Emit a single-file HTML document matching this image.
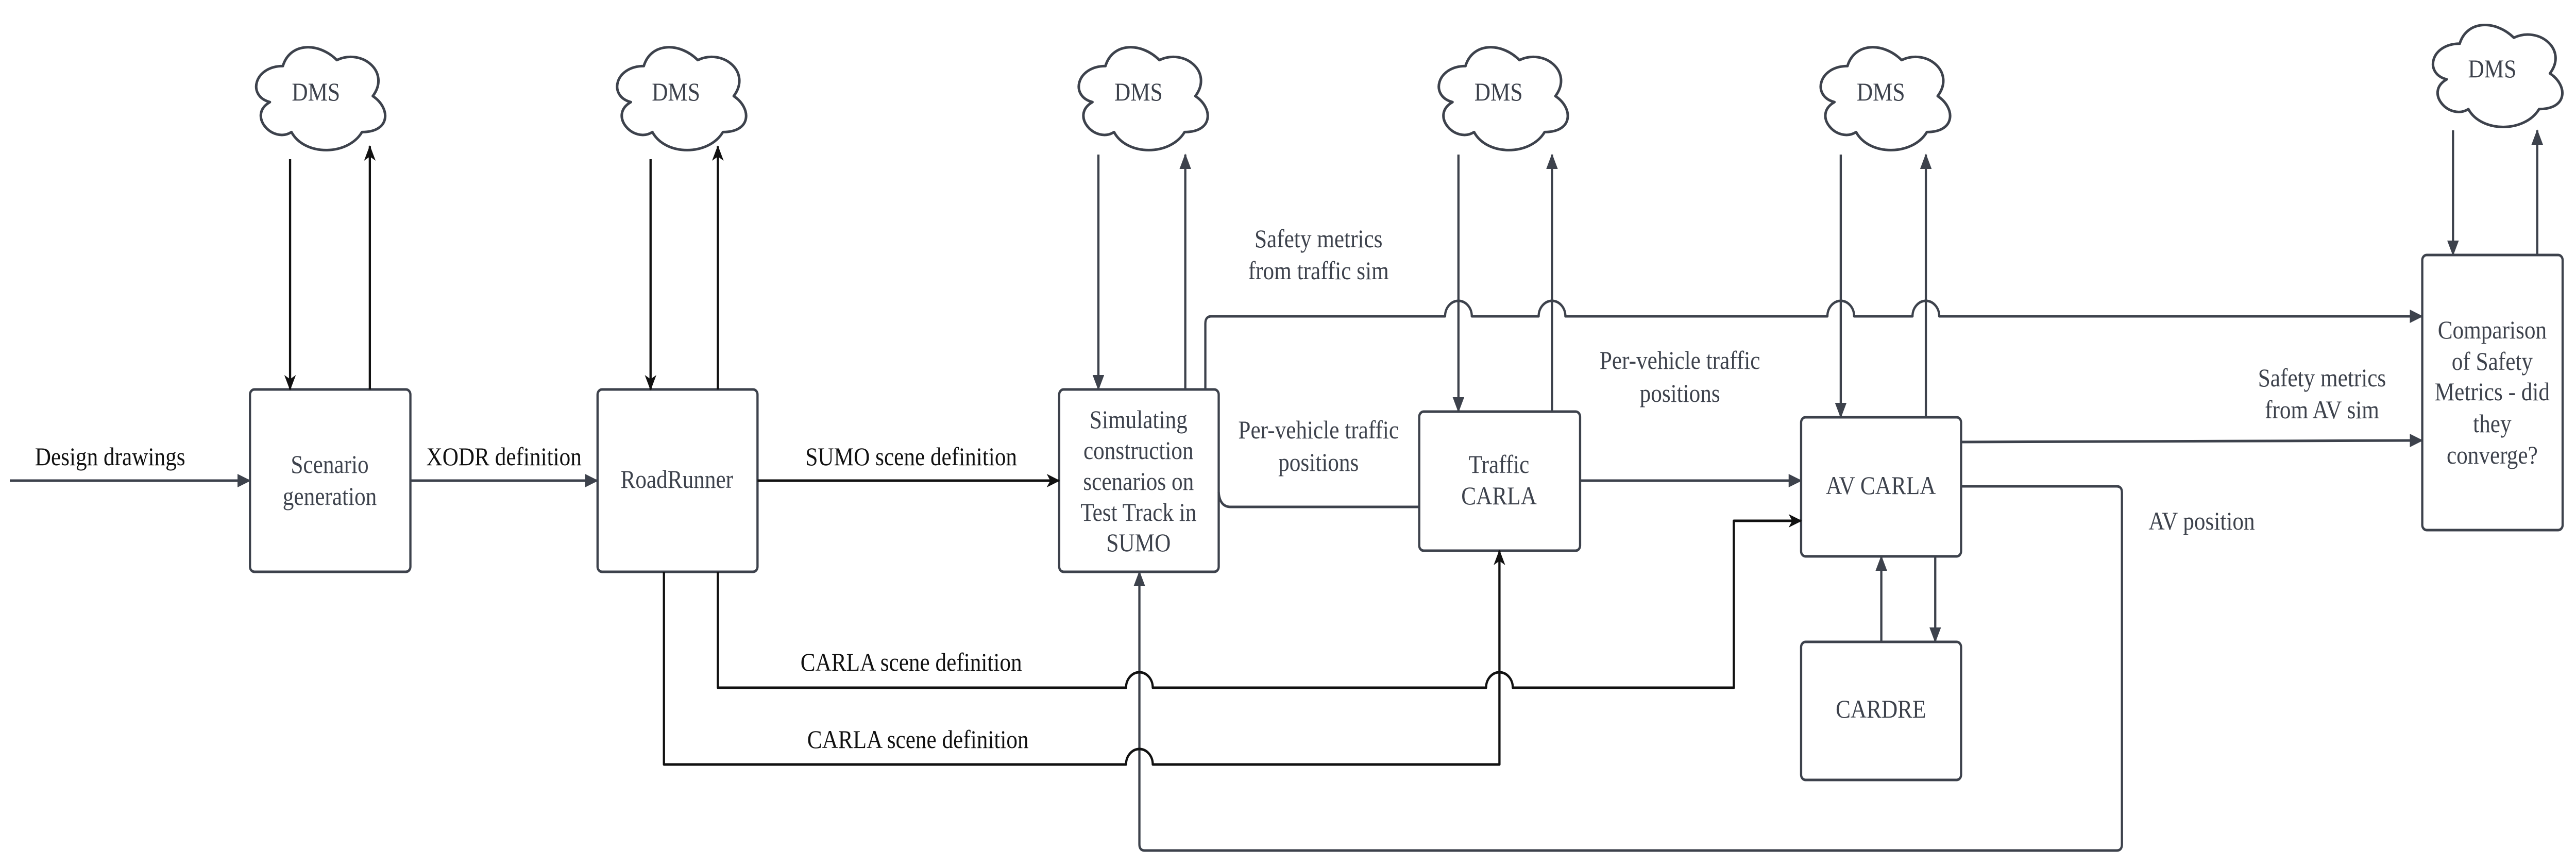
<!DOCTYPE html>
<html><head><meta charset="utf-8"><meta name="viewport" content="width=5781">
<style>
html,body{margin:0;padding:0;background:#fff;width:100vw;height:100vh;overflow:hidden;}
svg{display:block;width:100vw;height:100vh;}
text{font-family:"Liberation Serif","Times New Roman","DejaVu Serif",serif;font-size:50px;}
.e{fill:#111;}
.b{fill:#3d424c;}
</style></head><body>
<svg viewBox="0 0 5781 1683" preserveAspectRatio="none" xmlns="http://www.w3.org/2000/svg">
<defs>
<marker id="ag" markerUnits="userSpaceOnUse" markerWidth="30" markerHeight="26" refX="28" refY="13" orient="auto"><path d="M0 0 L30 13 L0 26 Z" fill="#3d424c"/></marker>
<marker id="ak" markerUnits="userSpaceOnUse" markerWidth="30" markerHeight="26" refX="28" refY="13" orient="auto"><path d="M0 0 L30 13 L0 26 L8 13 Z" fill="#111"/></marker>
<symbol id="cloud" viewBox="0 0 100 100" preserveAspectRatio="none">
<path d="M25 25 C5 25 0 50 16 55 C0 66 18 90 31 80 C40 100 70 100 80 80 C100 80 100 60 87.5 50 C100 30 80 10 62.5 20 C50 5 30 5 25 25 Z" fill="#fff" stroke="#3d424c" vector-effect="non-scaling-stroke" style="stroke-width:5px"/>
</symbol>
</defs>
<g fill="none" stroke-width="5" stroke-linejoin="round">
<use href="#cloud" x="554" y="70" width="323" height="233"/>
<use href="#cloud" x="1364" y="70" width="323" height="233"/>
<use href="#cloud" x="2400" y="70" width="323" height="233"/>
<use href="#cloud" x="3208" y="70" width="323" height="233"/>
<use href="#cloud" x="4065" y="70" width="324" height="233"/>
<use href="#cloud" x="5439" y="27" width="324" height="231"/>
<g stroke="#3d424c" fill="#fff">
<rect x="561" y="756" width="360" height="354" rx="10"/>
<rect x="1341" y="756" width="359" height="354" rx="10"/>
<rect x="2377" y="756" width="358" height="354" rx="10"/>
<rect x="3185" y="799" width="361" height="270" rx="10"/>
<rect x="4042" y="810" width="359" height="270" rx="10"/>
<rect x="4042" y="1246" width="359" height="268" rx="10"/>
<rect x="5436" y="495" width="315" height="534" rx="10"/>
</g>
<path d="M22 933 L561 933" stroke="#3d424c" marker-end="url(#ag)"/>
<path d="M921 933 L1341 933" stroke="#3d424c" marker-end="url(#ag)"/>
<path d="M1700 933 L2377 933" stroke="#111" marker-end="url(#ak)"/>
<path d="M651 309 L651 756" stroke="#111" marker-end="url(#ak)"/>
<path d="M830 756 L830 284" stroke="#111" marker-end="url(#ak)"/>
<path d="M1460 309 L1460 756" stroke="#111" marker-end="url(#ak)"/>
<path d="M1611 756 L1611 284" stroke="#111" marker-end="url(#ak)"/>
<path d="M2465 300 L2465 756" stroke="#3d424c" marker-end="url(#ag)"/>
<path d="M2660 756 L2660 300" stroke="#3d424c" marker-end="url(#ag)"/>
<path d="M2705 756 L2705 628 Q2705 614 2719 614 L3243 614 A30 30 0 0 1 3303 614 L3453 614 A30 30 0 0 1 3513 614 L4101 614 A30 30 0 0 1 4161 614 L4292 614 A30 30 0 0 1 4352 614 L5436 614" stroke="#3d424c" marker-end="url(#ag)"/>
<path d="M2735 955 Q2737 984 2762 984 L3185 984" stroke="#3d424c"/>
<path d="M3273 300 L3273 799" stroke="#3d424c" marker-end="url(#ag)"/>
<path d="M3483 799 L3483 300" stroke="#3d424c" marker-end="url(#ag)"/>
<path d="M3546 933 L4042 933" stroke="#3d424c" marker-end="url(#ag)"/>
<path d="M4131 300 L4131 810" stroke="#3d424c" marker-end="url(#ag)"/>
<path d="M4322 810 L4322 300" stroke="#3d424c" marker-end="url(#ag)"/>
<path d="M4401 858 L5436 855" stroke="#3d424c" marker-end="url(#ag)"/>
<path d="M5505 253 L5505 495" stroke="#3d424c" marker-end="url(#ag)"/>
<path d="M5694 495 L5694 253" stroke="#3d424c" marker-end="url(#ag)"/>
<path d="M4401 944 L4750 944 Q4762 944 4762 956 L4762 1639 Q4762 1651 4750 1651 L2569 1651 Q2557 1651 2557 1639 L2557 1110" stroke="#3d424c" marker-end="url(#ag)"/>
<path d="M1611 1110 L1611 1335 L2527 1335 A30 30 0 0 1 2587 1335 L3335 1335 A30 30 0 0 1 3395 1335 L3891 1335 L3891 1011 L4042 1011" stroke="#111" marker-end="url(#ak)"/>
<path d="M1490 1110 L1490 1484 L2527 1484 A30 30 0 0 1 2587 1484 L3365 1484 L3365 1069" stroke="#111" marker-end="url(#ak)"/>
<path d="M4222 1246 L4222 1080" stroke="#3d424c" marker-end="url(#ag)"/>
<path d="M4343 1080 L4343 1246" stroke="#3d424c" marker-end="url(#ag)"/>
</g>
<g text-anchor="middle" dominant-baseline="central" font-family="Liberation Serif, Times New Roman, serif" font-size="50">
<text class="b" x="709" y="179">DMS</text>
<text class="b" x="1517" y="179">DMS</text>
<text class="b" x="2555" y="179">DMS</text>
<text class="b" x="3363" y="179">DMS</text>
<text class="b" x="4221" y="179">DMS</text>
<text class="b" x="5593" y="134">DMS</text>
<text class="b" x="740" y="902">Scenario</text>
<text class="b" x="740" y="964">generation</text>
<text class="b" x="1519" y="931">RoadRunner</text>
<text class="b" x="2555" y="815">Simulating</text>
<text class="b" x="2555" y="875">construction</text>
<text class="b" x="2555" y="935">scenarios on</text>
<text class="b" x="2555" y="995">Test Track in</text>
<text class="b" x="2555" y="1054">SUMO</text>
<text class="b" x="3364" y="902">Traffic</text>
<text class="b" x="3364" y="963">CARLA</text>
<text class="b" x="4221" y="943">AV CARLA</text>
<text class="b" x="4221" y="1377">CARDRE</text>
<text class="b" x="5593" y="641">Comparison</text>
<text class="b" x="5593" y="702">of Safety</text>
<text class="b" x="5593" y="761">Metrics - did</text>
<text class="b" x="5593" y="823">they</text>
<text class="b" x="5593" y="884">converge?</text>
<text class="e" x="247" y="887">Design drawings</text>
<text class="e" x="1131" y="887">XODR definition</text>
<text class="e" x="2045" y="887">SUMO scene definition</text>
<text class="e" x="2045" y="1286">CARLA scene definition</text>
<text class="e" x="2060" y="1436">CARLA scene definition</text>
<text class="b" x="2959" y="464">Safety metrics</text>
<text class="b" x="2959" y="526">from traffic sim</text>
<text class="b" x="2959" y="835">Per-vehicle traffic</text>
<text class="b" x="2959" y="898">positions</text>
<text class="b" x="3770" y="700">Per-vehicle traffic</text>
<text class="b" x="3770" y="764">positions</text>
<text class="b" x="5211" y="734">Safety metrics</text>
<text class="b" x="5211" y="796">from AV sim</text>
<text class="b" x="4941" y="1012">AV position</text>
</g>
</svg>
</body></html>
